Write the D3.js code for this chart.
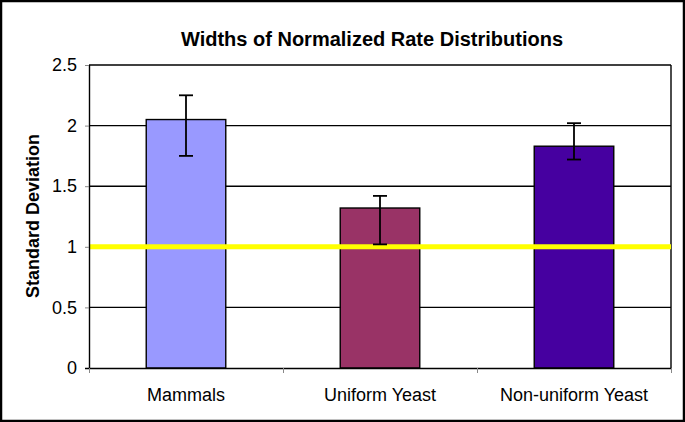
<!DOCTYPE html>
<html><head><meta charset="utf-8">
<script src="https://cdn.jsdelivr.net/npm/d3@7"></script>
<style>html,body{margin:0;padding:0;background:#fff}svg{display:block}</style>
</head><body>
<script>
const categories = ["Mammals", "Uniform Yeast", "Non-uniform Yeast"];
const values = [2.05, 1.32, 1.83];
const errLow = [1.75, 1.02, 1.72];
const errHigh = [2.25, 1.42, 2.02];
const colors = ["#9999FF", "#993366", "#4600A0"];
const yTicks = [0, 0.5, 1, 1.5, 2, 2.5];
const refValue = 1;
const title = "Widths of Normalized Rate Distributions";
const yTitle = "Standard Deviation";

const W = 685, H = 422;
const m = {left: 89, right: 14, top: 65, bottom: 54};
const svg = d3.select("body").append("svg").attr("width", W).attr("height", H);
svg.append("rect").attr("x", 1).attr("y", 1).attr("width", W - 2).attr("height", H - 2)
  .attr("fill", "#fff").attr("stroke", "#000").attr("stroke-width", 2.5);

const x = d3.scaleBand().domain(categories).range([m.left, W - m.right]).paddingInner(0.59).paddingOuter(0.295);
const xb = d3.scaleBand().domain(categories).range([m.left, W - m.right]);
const y = d3.scaleLinear().domain([0, 2.5]).range([H - m.bottom, m.top]);
const font = "Arial, 'Liberation Sans', sans-serif";

// gridlines
svg.append("g").selectAll("line").data(yTicks.filter(d => d > 0)).join("line")
  .attr("x1", m.left).attr("x2", W - m.right)
  .attr("y1", d => y(d)).attr("y2", d => y(d))
  .attr("stroke", "#000").attr("stroke-width", 1.4);
// right border
svg.append("line").attr("x1", W - m.right).attr("x2", W - m.right).attr("y1", y(2.5)).attr("y2", y(0))
  .attr("stroke", "#000").attr("stroke-width", 1.4);

// bars
svg.append("g").selectAll("rect").data(categories).join("rect")
  .attr("x", d => x(d)).attr("width", x.bandwidth())
  .attr("y", (d, i) => y(values[i])).attr("height", (d, i) => y(0) - y(values[i]))
  .attr("fill", (d, i) => colors[i]).attr("stroke", "#000").attr("stroke-width", 1.4);

// reference line
svg.append("line").attr("x1", m.left).attr("x2", W - m.right)
  .attr("y1", y(refValue)).attr("y2", y(refValue))
  .attr("stroke", "#FFFF00").attr("stroke-width", 5);

// error bars
const eg = svg.append("g").attr("stroke", "#000").attr("stroke-width", 1.8);
categories.forEach((c, i) => {
  const cx = x(c) + x.bandwidth() / 2;
  eg.append("line").attr("x1", cx).attr("x2", cx).attr("y1", y(errLow[i])).attr("y2", y(errHigh[i]));
  eg.append("line").attr("x1", cx - 7).attr("x2", cx + 7).attr("y1", y(errLow[i])).attr("y2", y(errLow[i]));
  eg.append("line").attr("x1", cx - 7).attr("x2", cx + 7).attr("y1", y(errHigh[i])).attr("y2", y(errHigh[i]));
});

// y axis
const ya = svg.append("g").attr("transform", `translate(${m.left},0)`)
  .call(d3.axisLeft(y).tickValues(yTicks).tickSize(4).tickPadding(8).tickFormat(d3.format("")));
ya.select(".domain").attr("stroke", "#000").attr("stroke-width", 1.4).attr("d", `M0.5,${y(2.5)}V${y(0)}`);
ya.selectAll(".tick line").attr("stroke", "#888");
ya.selectAll(".tick text").attr("font-family", font).attr("font-size", 18).attr("fill", "#000");

// x axis
const xa = svg.append("g").attr("transform", `translate(0,${y(0)})`);
xa.append("line").attr("x1", m.left - 4).attr("x2", W - m.right).attr("y1", 0.5).attr("y2", 0.5)
  .attr("stroke", "#000").attr("stroke-width", 1.4);
xa.selectAll("line.tk").data([...categories.map(c => xb(c)), W - m.right]).join("line").attr("class", "tk")
  .attr("x1", d => d + 0.5).attr("x2", d => d + 0.5).attr("y1", 0).attr("y2", 5).attr("stroke", "#888");
xa.selectAll("text").data(categories).join("text")
  .attr("x", d => xb(d) + xb.bandwidth() / 2).attr("y", 33)
  .attr("text-anchor", "middle").attr("font-family", font).attr("font-size", 18).attr("fill", "#000")
  .text(d => d);

// titles
svg.append("text").attr("x", 372).attr("y", 46).attr("text-anchor", "middle")
  .attr("font-family", font).attr("font-size", 20).attr("font-weight", "bold").text(title);
svg.append("text").attr("transform", `translate(39,216) rotate(-90)`).attr("text-anchor", "middle")
  .attr("font-family", font).attr("font-size", 18).attr("font-weight", "bold").text(yTitle);
</script>
</body></html>
